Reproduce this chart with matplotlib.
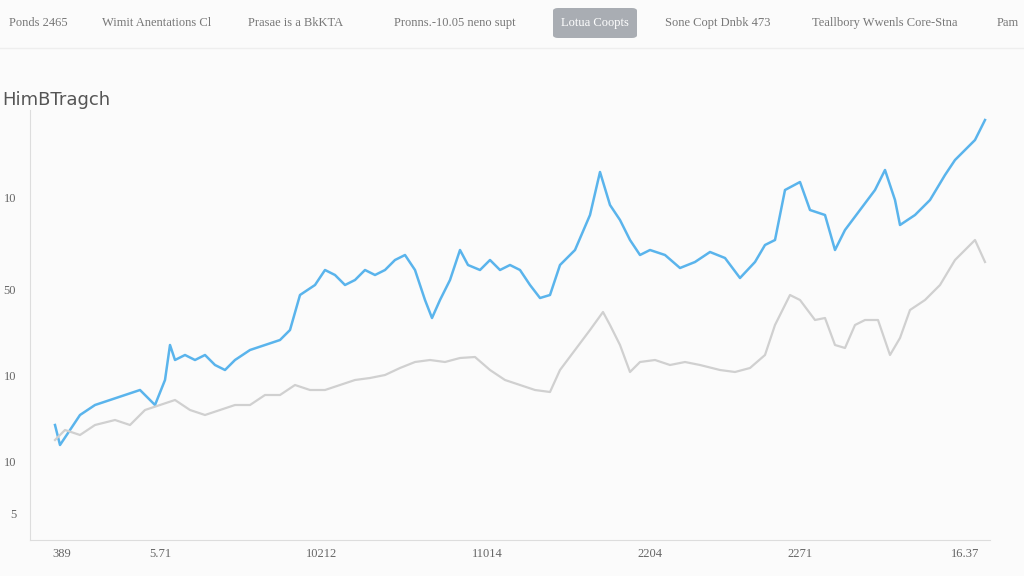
import matplotlib
matplotlib.use("Agg")
import matplotlib.pyplot as plt
from matplotlib.patches import FancyBboxPatch

blue_x = [55,60,70,80,95,110,125,140,150,155,165,170,175,185,195,205,215,225,235,250,265,280,290,300,315,325,335,345,355,365,375,385,395,405,415,425,432,440,450,460,468,480,490,500,510,520,530,540,550,560,575,590,600,610,620,630,640,650,665,680,695,710,725,740,755,765,775,785,800,810,825,835,845,860,875,885,895,900,915,930,945,955,965,975,985]
blue_y = [425,445,430,415,405,400,395,390,400,405,380,345,360,355,360,355,365,370,360,350,345,340,330,295,285,270,275,285,280,270,275,270,260,255,270,300,318,300,280,250,265,270,260,270,265,270,285,298,295,265,250,215,172,205,220,240,255,250,255,268,262,252,258,278,262,245,240,190,182,210,215,250,230,210,190,170,200,225,215,200,175,160,150,140,120]
gray_x = [55,65,80,95,115,130,145,160,175,190,205,220,235,250,265,280,295,310,325,340,355,370,385,400,415,430,445,460,475,490,505,520,535,550,560,575,590,603,610,620,630,640,655,670,685,700,720,735,750,765,775,790,800,815,825,835,845,855,865,878,890,900,910,925,940,955,965,975,985]
gray_y = [440,430,435,425,420,425,410,405,400,410,415,410,405,405,395,395,385,390,390,385,380,378,375,368,362,360,362,358,357,370,380,385,390,392,370,350,330,312,325,345,372,362,360,365,362,365,370,372,368,355,325,295,300,320,318,345,348,325,320,320,355,338,310,300,285,260,250,240,262]
blue_v = [540 - v for v in blue_y]
gray_v = [540 - v for v in gray_y]

ytick_vals = [540-197, 540-290, 540-376, 540-462, 540-513]
ytick_labels = ["10", "50", "10", "10", "5"]
xtick_vals = [62, 160, 322, 487, 650, 800, 965]
xtick_labels = ["389", "5.71", "10212", "11014", "2204", "2271", "16.37"]
tabs = ["Ponds 2465", "Wimit Anentations Cl", "Prasae is a BkKTA", "Pronns.-10.05 neno supt",
        "Lotua Coopts", "Sone Copt Dnbk 473", "Teallbory Wwenls Core-Stna", "Pam"]
tab_x = [38, 157, 296, 455, 595, 718, 885, 1008]

W, H = 1024, 576
fig = plt.figure(figsize=(W/100, H/100), dpi=100, facecolor="#fbfbfb")
ax = fig.add_axes([30/W, 1-540/H, 960/W, 430/H])
ax.set_facecolor("#fbfbfb")
ax.plot(blue_x, blue_v, color="#5ab4ec", lw=1.8)
ax.plot(gray_x, gray_v, color="#d0d0d0", lw=1.6)
ax.set_xlim(30, 990); ax.set_ylim(0, 430)
for s in ["top", "right"]:
    ax.spines[s].set_visible(False)
for s in ["left", "bottom"]:
    ax.spines[s].set_color("#dddddd")
ax.set_yticks(ytick_vals); ax.set_yticklabels(ytick_labels)
ax.set_xticks(xtick_vals); ax.set_xticklabels(xtick_labels)
ax.tick_params(colors="#666666", length=0, labelsize=9, pad=6)
ax.tick_params(axis="y", pad=10)
for lbl in ax.get_xticklabels() + ax.get_yticklabels():
    lbl.set_family("Liberation Serif")

for t, x in zip(tabs, tab_x):
    if t == "Lotua Coopts":
        fig.patches.append(FancyBboxPatch(((x-42)/W, 1-38/H), 84/W, 30/H, boxstyle="round,pad=0,rounding_size=0.005",
                                          transform=fig.transFigure, facecolor="#a9adb3", edgecolor="none"))
        fig.text(x/W, 1-23/H, t, ha="center", va="center", fontsize=9, color="white", family="Liberation Serif")
    else:
        fig.text(x/W, 1-23/H, t, ha="center", va="center", fontsize=9, color="#777777", family="Liberation Serif")
fig.add_artist(plt.Line2D([0, 1], [1-48/H, 1-48/H], color="#eeeeee", lw=1))
fig.text(2/W, 1-100/H, "HimBTragch", ha="left", va="center", fontsize=13, color="#555555")
fig.savefig("out.png", dpi=100, facecolor=fig.get_facecolor())
